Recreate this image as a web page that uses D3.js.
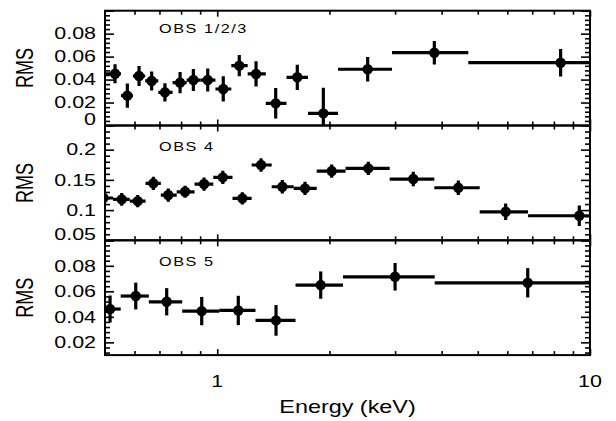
<!DOCTYPE html>
<html>
<head>
<meta charset="utf-8">
<script src="https://cdn.jsdelivr.net/npm/d3@7"></script>
<style>
  html, body { margin: 0; padding: 0; background: #fff; }
  svg { display: block; }
  text { font-family: "Liberation Sans", Arial, Helvetica, sans-serif; fill: #000; }
</style>
</head>
<body>
<svg id="chart" width="616" height="421"></svg>
<script>
// ---------------- data ----------------
const energyDomain = [0.5, 10];
const energyMajorTicks = [1, 10];
const energyMinorTicks = [0.6, 0.7, 0.8, 0.9, 2, 3, 4, 5, 6, 7, 8, 9];
const energyTickLabels = ["1", "10"];

// OBS 1/2/3
const obs123Energy = [0.532, 0.574, 0.617, 0.667, 0.724, 0.795, 0.863, 0.943, 1.038, 1.146, 1.271, 1.435, 1.640, 1.926, 2.533, 3.823, 8.34];
const obs123Lo     = [0.500, 0.552, 0.594, 0.641, 0.695, 0.759, 0.828, 0.902, 0.989, 1.091, 1.207, 1.350, 1.534, 1.752, 2.109, 2.944, 4.716];
const obs123Hi     = [0.552, 0.594, 0.641, 0.695, 0.759, 0.828, 0.902, 0.989, 1.091, 1.207, 1.350, 1.534, 1.752, 2.109, 2.944, 4.716, 10];
const obs123Rms    = [0.0451, 0.0260, 0.0431, 0.0388, 0.0289, 0.0373, 0.0396, 0.0396, 0.0318, 0.0521, 0.0449, 0.0193, 0.0420, 0.0106, 0.0490, 0.0634, 0.0547];
const obs123Err    = [0.0083, 0.0105, 0.0087, 0.0083, 0.0080, 0.0093, 0.0096, 0.0100, 0.0110, 0.0093, 0.0110, 0.0133, 0.0110, 0.0223, 0.0106, 0.0102, 0.0120];

// OBS 4
const obs4Energy = [0.495, 0.5544, 0.612, 0.674, 0.739, 0.820, 0.922, 1.035, 1.168, 1.311, 1.495, 1.720, 2.028, 2.543, 3.357, 4.434, 5.94, 9.36];
const obs4Lo     = [0.470, 0.5254, 0.5824, 0.6423, 0.7059, 0.7786, 0.8693, 0.9761, 1.099, 1.237, 1.400, 1.604, 1.849, 2.209, 2.902, 3.823, 5.060, 6.821];
const obs4Hi     = [0.5254, 0.5824, 0.6423, 0.7059, 0.7786, 0.8693, 0.9761, 1.099, 1.237, 1.400, 1.604, 1.849, 2.209, 2.902, 3.823, 5.060, 6.821, 10];
const obs4Rms    = [0.120, 0.1178, 0.1149, 0.1443, 0.1249, 0.1303, 0.1431, 0.1542, 0.1194, 0.1746, 0.1386, 0.1360, 0.1646, 0.1691, 0.1514, 0.1370, 0.0972, 0.0906];
const obs4Err    = [0.009, 0.0105, 0.0100, 0.0110, 0.0110, 0.0100, 0.0110, 0.0110, 0.0100, 0.0110, 0.0110, 0.0110, 0.0110, 0.0110, 0.0120, 0.0120, 0.0138, 0.0170];

// OBS 5
const obs5Energy = [0.5159, 0.6046, 0.7319, 0.9087, 1.139, 1.438, 1.895, 3.000, 6.807];
const obs5Lo     = [0.500, 0.5509, 0.6555, 0.8055, 1.0125, 1.2668, 1.622, 2.175, 3.832];
const obs5Hi     = [0.5509, 0.6555, 0.8055, 1.0125, 1.2668, 1.622, 2.175, 3.832, 10];
const obs5Rms    = [0.0461, 0.0563, 0.0518, 0.0445, 0.0450, 0.0372, 0.0649, 0.0714, 0.0667];
const obs5Err    = [0.0106, 0.0105, 0.0107, 0.0111, 0.0115, 0.0120, 0.0107, 0.0108, 0.0115];

const panelLabels = ["OBS 1/2/3", "OBS 4", "OBS 5"];
const yDomains = [[0, 0.1], [0.05, 0.24], [0.01, 0.1]];
const yMajorTicks = [[0, 0.02, 0.04, 0.06, 0.08, 0.1], [0.05, 0.1, 0.15, 0.2], [0.02, 0.04, 0.06, 0.08, 0.1]];
const yTickLabels = [["0", "0.02", "0.04", "0.06", "0.08", ""], ["0.05", "0.1", "0.15", "0.2"], ["0.02", "0.04", "0.06", "0.08", ""]];
const yMinorTicks = [
  [0.004,0.008,0.012,0.016,0.024,0.028,0.032,0.036,0.044,0.048,0.052,0.056,0.064,0.068,0.072,0.076,0.084,0.088,0.092,0.096],
  [0.06,0.07,0.08,0.09,0.11,0.12,0.13,0.14,0.16,0.17,0.18,0.19,0.21,0.22,0.23],
  [0.012,0.016,0.024,0.028,0.032,0.036,0.044,0.048,0.052,0.056,0.064,0.068,0.072,0.076,0.084,0.088,0.092,0.096]
];
const xLabel = "Energy (keV)";
const yLabel = "RMS";

// ---------------- layout ----------------
const SX = 1.3;               // horizontal stretch of glyphs
const left = 105, right = 590;
const top0 = 10.7, panelH = 114.8;
const panelLabelPos = [[159, 33], [159, 150.5], [159, 265.5]];

const svg = d3.select("#chart");
const x = d3.scaleLog().domain(energyDomain).range([left, right]);

function stext(g, px, py, str, size, anchor, rot) {
  return g.append("text")
    .attr("transform", `translate(${px},${py}) scale(${SX},1)` + (rot ? " rotate(-90)" : ""))
    .attr("text-anchor", anchor)
    .style("font-size", size + "px")
    .text(str);
}

const series = [
  {E: obs123Energy, lo: obs123Lo, hi: obs123Hi, v: obs123Rms, e: obs123Err},
  {E: obs4Energy, lo: obs4Lo, hi: obs4Hi, v: obs4Rms, e: obs4Err},
  {E: obs5Energy, lo: obs5Lo, hi: obs5Hi, v: obs5Rms, e: obs5Err}
];

series.forEach((s, i) => {
  const pt = top0 + i * panelH, pb = pt + panelH;
  const y = d3.scaleLinear().domain(yDomains[i]).range([pb, pt]);
  const g = svg.append("g");

  const clipId = "clip" + i;
  svg.append("clipPath").attr("id", clipId).append("rect")
    .attr("x", left).attr("y", pt).attr("width", right - left).attr("height", panelH);

  const data = s.E.map((e, k) => ({E: e, lo: s.lo[k], hi: s.hi[k], v: s.v[k], err: s.e[k]}));
  const dg = g.append("g").attr("clip-path", `url(#${clipId})`);
  dg.selectAll("line.h").data(data).join("line")
    .attr("x1", d => x(d.lo)).attr("x2", d => x(d.hi))
    .attr("y1", d => y(d.v)).attr("y2", d => y(d.v))
    .attr("stroke", "#000").attr("stroke-width", 3.2);
  dg.selectAll("line.v").data(data).join("line")
    .attr("x1", d => x(d.E)).attr("x2", d => x(d.E))
    .attr("y1", d => y(d.v - d.err)).attr("y2", d => y(d.v + d.err))
    .attr("stroke", "#000").attr("stroke-width", 3.2);
  dg.selectAll("circle").data(data).join("circle")
    .attr("cx", d => x(d.E)).attr("cy", d => y(d.v)).attr("r", 5.2)
    .attr("fill", "#000");

  // axes (ticks inward)
  const styleAxis = sel => { sel.select(".domain").remove(); sel.selectAll("line").attr("stroke", "#000").attr("stroke-width", 1.6); };
  g.append("g").attr("transform", `translate(${left},0)`)
    .call(d3.axisLeft(y).tickValues(yMajorTicks[i]).tickSize(-9).tickFormat("")).call(styleAxis);
  g.append("g").attr("transform", `translate(${left},0)`)
    .call(d3.axisLeft(y).tickValues(yMinorTicks[i]).tickSize(-5).tickFormat("")).call(styleAxis);
  g.append("g").attr("transform", `translate(${right},0)`)
    .call(d3.axisRight(y).tickValues(yMajorTicks[i]).tickSize(-9).tickFormat("")).call(styleAxis);
  g.append("g").attr("transform", `translate(${right},0)`)
    .call(d3.axisRight(y).tickValues(yMinorTicks[i]).tickSize(-5).tickFormat("")).call(styleAxis);
  g.append("g").attr("transform", `translate(0,${pt})`)
    .call(d3.axisTop(x).tickValues(energyMajorTicks).tickSize(-6).tickFormat("")).call(styleAxis);
  g.append("g").attr("transform", `translate(0,${pt})`)
    .call(d3.axisTop(x).tickValues(energyMinorTicks).tickSize(-4).tickFormat("")).call(styleAxis);
  g.append("g").attr("transform", `translate(0,${pb})`)
    .call(d3.axisBottom(x).tickValues(energyMajorTicks).tickSize(-6).tickFormat("")).call(styleAxis);
  g.append("g").attr("transform", `translate(0,${pb})`)
    .call(d3.axisBottom(x).tickValues(energyMinorTicks).tickSize(-4).tickFormat("")).call(styleAxis);

  g.append("rect").attr("x", left).attr("y", pt).attr("width", right - left).attr("height", panelH)
    .attr("fill", "none").attr("stroke", "#000").attr("stroke-width", 2);

  // y tick labels
  yMajorTicks[i].forEach((t, k) => {
    const lab = yTickLabels[i][k];
    if (!lab) return;
    const raise = (t === yDomains[i][0]) ? 6 : 0;
    stext(g, 96, y(t) - raise + 5.8, lab, 16.5, "end", false);
  });

  // y title
  stext(g, 33, (pt + pb) / 2, yLabel, 18, "middle", true);

  // panel label
  stext(g, panelLabelPos[i][0], panelLabelPos[i][1], panelLabels[i], 12.5, "start", false)
    .style("letter-spacing", "1.2px");
});

// x tick labels
energyMajorTicks.forEach((t, k) => {
  stext(svg, x(t), 386.7, energyTickLabels[k], 16.5, "middle", false);
});
stext(svg, (left + right) / 2, 412.7, xLabel, 18, "middle", false);
</script>
</body>
</html>
